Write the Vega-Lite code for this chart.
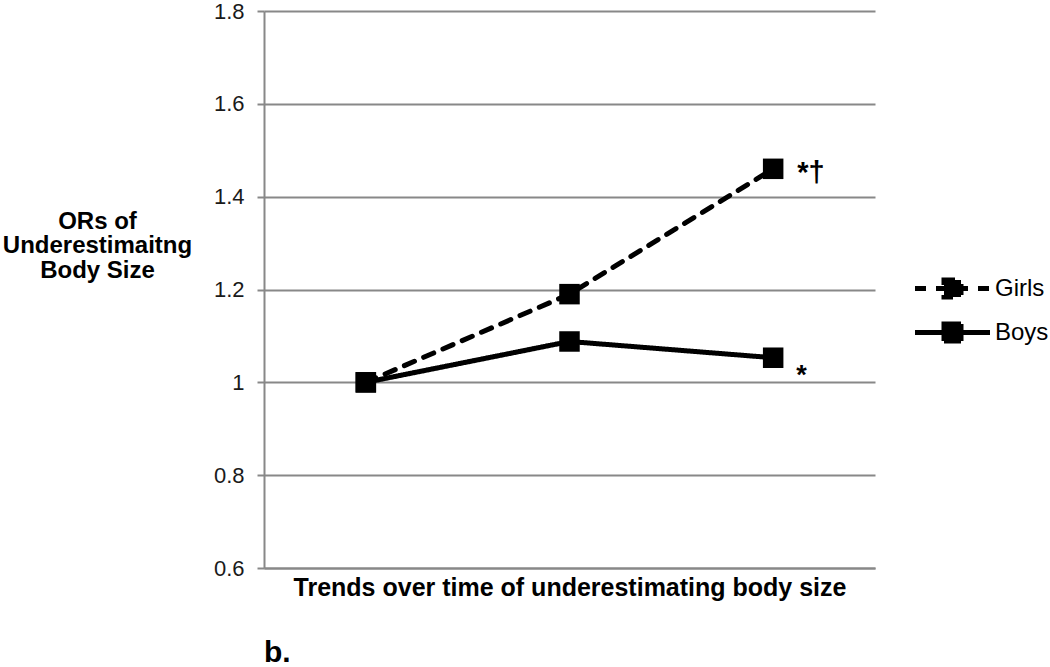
{
  "$schema": "https://vega.github.io/schema/vega-lite/v6.json",
  "autosize": {"type": "none"},
  "width": 611,
  "height": 557,
  "padding": {"left": 264, "top": 11, "right": 175, "bottom": 99},
  "background": "white",
  "config": {
    "font": "Liberation Sans",
    "view": {"stroke": null},
    "axis": {"labelFont": "Liberation Sans", "titleFont": "Liberation Sans"}
  },
  "title": {
    "text": "b.",
    "orient": "bottom",
    "anchor": "start",
    "frame": "group",
    "fontSize": 30,
    "fontWeight": "bold",
    "color": "#000",
    "offset": 38
  },
  "data": {
    "values": [
      {"time": "T1", "sex": "Girls", "or": 1.0},
      {"time": "T2", "sex": "Girls", "or": 1.19},
      {"time": "T3", "sex": "Girls", "or": 1.46},
      {"time": "T1", "sex": "Boys", "or": 1.0},
      {"time": "T2", "sex": "Boys", "or": 1.088},
      {"time": "T3", "sex": "Boys", "or": 1.053}
    ]
  },
  "layer": [
    {
      "mark": {"type": "line", "color": "#000", "strokeWidth": 5, "strokeCap": "round"},
      "encoding": {
        "x": {
          "field": "time", "type": "nominal", "sort": ["T1", "T2", "T3"],
          "axis": {
            "labels": false, "ticks": false, "domain": true,
            "domainColor": "#888", "domainWidth": 2,
            "title": "Trends over time of underestimating body size",
            "titleFontSize": 25, "titleFontWeight": "bold", "titleColor": "#000",
            "titlePadding": 7
          }
        },
        "y": {
          "field": "or", "type": "quantitative",
          "scale": {"domain": [0.6, 1.8], "nice": false, "zero": false},
          "axis": {
            "values": [0.6, 0.8, 1, 1.2, 1.4, 1.6, 1.8],
            "format": "~g",
            "grid": true, "gridColor": "#888", "gridWidth": 2,
            "domainColor": "#888", "domainWidth": 2,
            "tickColor": "#888", "tickWidth": 2, "tickSize": 7,
            "labelFontSize": 22, "labelColor": "#1a1a1a", "labelPadding": 13,
            "title": ["ORs of", "Underestimaitng", "Body Size"],
            "titleFontSize": 24, "titleFontWeight": "bold", "titleColor": "#000",
            "titleAngle": 0, "titleAlign": "center", "titleBaseline": "middle",
            "titleX": -167, "titleY": 210, "titleLineHeight": 24.5
          }
        },
        "strokeDash": {
          "field": "sex", "type": "nominal",
          "scale": {"domain": ["Girls", "Boys"], "range": [[11, 10], [1, 0]]},
          "legend": {
            "title": null,
            "orient": "none",
            "legendX": 676,
            "legendY": 265,
            "symbolType": "M-3.75,0H3.75M-0.85,-0.85H0.85V0.85H-0.85Z",
            "symbolSize": 400,
            "symbolStrokeWidth": 5,
            "symbolStrokeColor": "#000",
            "symbolFillColor": "#000",
            "labelFontSize": 24,
            "labelColor": "#000",
            "labelOffset": 30,
            "rowPadding": 7
          }
        }
      }
    },
    {
      "mark": {"type": "point", "shape": "square", "size": 420, "filled": true, "color": "#000", "opacity": 1},
      "encoding": {
        "x": {"field": "time", "type": "nominal", "sort": ["T1", "T2", "T3"]},
        "y": {"field": "or", "type": "quantitative"}
      }
    },
    {
      "transform": [{"filter": "datum.sex === 'Girls' && datum.time === 'T3'"}],
      "mark": {"type": "text", "text": "*†", "align": "left", "baseline": "middle", "dx": 24, "dy": 4, "fontSize": 29, "fontWeight": "bold", "color": "#000"},
      "encoding": {
        "x": {"field": "time", "type": "nominal", "sort": ["T1", "T2", "T3"]},
        "y": {"field": "or", "type": "quantitative"}
      }
    },
    {
      "transform": [{"filter": "datum.sex === 'Boys' && datum.time === 'T3'"}],
      "mark": {"type": "text", "text": "*", "align": "left", "baseline": "middle", "dx": 23, "dy": 18, "fontSize": 27, "fontWeight": "bold", "color": "#000"},
      "encoding": {
        "x": {"field": "time", "type": "nominal", "sort": ["T1", "T2", "T3"]},
        "y": {"field": "or", "type": "quantitative"}
      }
    }
  ]
}
